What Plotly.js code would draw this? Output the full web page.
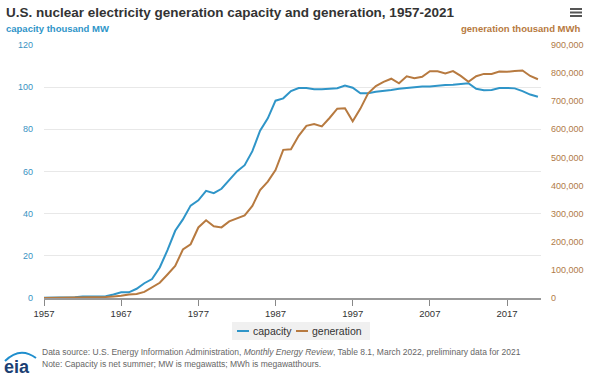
<!DOCTYPE html>
<html>
<head>
<meta charset="utf-8">
<script src="https://cdn.plot.ly/plotly-3.0.1.min.js"></script>
<style>html,body{margin:0;padding:0;background:#fff;}#chart{width:600px;height:379px;}</style>
</head>
<body>
<div id="chart"></div>
<script>
const years = [];
for (let y = 1957; y <= 2021; y++) years.push(y);

// capacity, thousand MW (net summer)
const capacity = [
  0.06, 0.06, 0.06, 0.41, 0.41, 0.71, 0.79, 0.79, 0.79, 1.68,
  2.70, 2.70, 4.38, 7.00, 9.00, 14.50, 22.68, 31.87, 37.27, 43.82,
  46.30, 50.83, 49.75, 51.81, 56.04, 60.04, 62.99, 69.65, 79.40, 85.24,
  93.59, 94.70, 98.16, 99.62, 99.59, 98.99, 99.04, 99.15, 99.52, 100.78,
  99.72, 97.07, 97.16, 97.86, 98.16, 98.66, 99.21, 99.63, 99.99, 100.33,
  100.27, 100.76, 101.00, 101.17, 101.42, 101.89, 99.24, 98.57, 98.67, 99.57,
  99.63, 99.43, 98.12, 96.50, 95.49
];

// generation, thousand MWh
const generation = [
  10, 165, 188, 518, 1692, 2270, 3212, 3343, 3657, 5520,
  7655, 12528, 13928, 21804, 38105, 54091, 83479, 113976, 172505, 191104,
  250883, 276403, 255155, 251116, 272674, 282773, 293677, 327634, 383691, 414038,
  455270, 526973, 529355, 576862, 612565, 618776, 610291, 640440, 673402, 674729,
  628644, 673702, 728254, 753893, 768826, 780064, 763733, 788528, 781986, 787219,
  806425, 806208, 798855, 806968, 790204, 769331, 789016, 797166, 797178, 805694,
  804950, 807084, 809409, 789879, 778152
];

const seriesNames = ['capacity', 'generation'];
const xTicks = [1957, 1967, 1977, 1987, 1997, 2007, 2017];
const leftTicks = [0, 20, 40, 60, 80, 100, 120];
const rightTicks = [0, 100000, 200000, 300000, 400000, 500000, 600000, 700000, 800000, 900000];

const W = 600, H = 379, L = 44, R = 541, T = 45, B = 298;
const px = x => (x - L) / (R - L);
const py = y => (B - y) / (B - T);

const blue = '#2f95c8', brown = '#b77a40';
const font = '"Liberation Sans", Arial, sans-serif';

const traces = [
  {x: years, y: capacity, name: seriesNames[0], type: 'scatter', mode: 'lines',
   line: {color: blue, width: 2}, yaxis: 'y'},
  {x: years, y: generation, name: seriesNames[1], type: 'scatter', mode: 'lines',
   line: {color: brown, width: 2}, yaxis: 'y2'}
];

const ann = (text, x, y, xa, size, color) => ({text, xref: 'paper', yref: 'paper', x: px(x), y: py(y),
  xanchor: xa, yanchor: 'middle', showarrow: false, font: {family: font, size, color}});
const hline = (x0, x1, y, color, width) => ({type: 'line', xref: 'paper', yref: 'paper',
  x0: px(x0), x1: px(x1), y0: py(y), y1: py(y), line: {color, width}});

const layout = {
  width: W, height: H,
  margin: {l: L, r: W - R, t: T, b: H - B, pad: 0},
  paper_bgcolor: '#fff', plot_bgcolor: '#fff',
  font: {family: font, size: 9, color: '#333'},
  showlegend: false,
  xaxis: {range: [1957, 2021.4], tickvals: xTicks, ticktext: xTicks.map(String),
          showgrid: false, zeroline: false, showline: true, linecolor: '#999', linewidth: 1.5,
          ticks: 'outside', ticklen: 6, tickcolor: '#888', tickwidth: 1,
          tickfont: {family: font, size: 9.5, color: '#333'}, fixedrange: true},
  yaxis: {range: [0, 120], tickvals: leftTicks, showgrid: true, gridcolor: '#e8e8e8',
          zeroline: false, ticks: '', tickfont: {family: font, size: 9, color: '#3a92c2'},
          ticklabelstandoff: 10, fixedrange: true},
  yaxis2: {range: [0, 900000], tickvals: rightTicks, tickformat: ',d', overlaying: 'y', side: 'right',
           showgrid: false, zeroline: false, ticks: '',
           tickfont: {family: font, size: 9, color: '#b07a48'}, ticklabelstandoff: 9, fixedrange: true},
  annotations: [
    ann('<b>U.S. nuclear electricity generation capacity and generation, 1957-2021</b>', 4, 12, 'left', 13.5, '#333'),
    ann('<b>capacity thousand MW</b>', 4, 29, 'left', 9.5, blue),
    ann('<b>generation thousand MWh</b>', 582, 29, 'right', 9.5, brown),
    ann(seriesNames[0], 251, 331, 'left', 10.5, '#333'),
    ann(seriesNames[1], 310, 331, 'left', 10.5, '#333'),
    ann('Data source: U.S. Energy Information Administration, <i>Monthly Energy Review</i>, Table 8.1, March 2022, preliminary data for 2021', 40, 352, 'left', 8.5, '#666'),
    ann('Note: Capacity is net summer; MW is megawatts; MWh is megawatthours.', 40, 364, 'left', 8.5, '#666'),
    ann('<b>eia</b>', 2, 367, 'left', 18, '#1b3f73')
  ],
  shapes: [
    {type: 'rect', xref: 'paper', yref: 'paper', x0: px(232), x1: px(370), y0: py(322), y1: py(340),
     fillcolor: '#f0f0f0', line: {width: 0}, layer: 'below'},
    hline(237, 249, 331, blue, 2),
    hline(296, 308, 331, brown, 2),
    {type: 'path', xref: 'paper', yref: 'paper',
     path: `M ${px(5)} ${py(361)} Q ${px(20)} ${py(346)} ${px(36)} ${py(358)}`,
     line: {color: '#1f8ecd', width: 2}},
    hline(570, 582, 9, '#555', 2),
    hline(570, 582, 12.5, '#555', 2),
    hline(570, 582, 16, '#555', 2)
  ]
};

Plotly.newPlot('chart', traces, layout, {displayModeBar: false, staticPlot: true});
</script>
</body>
</html>
